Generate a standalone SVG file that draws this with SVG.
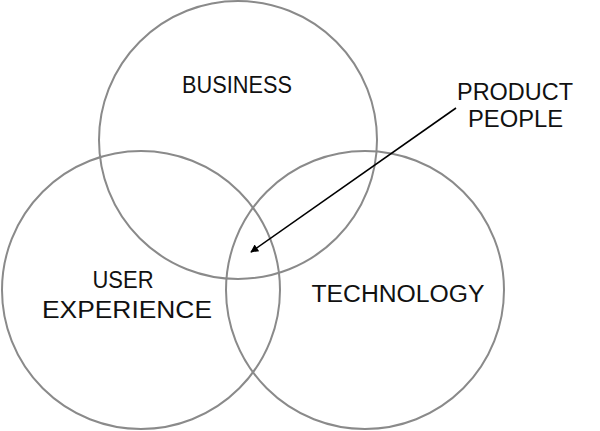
<svg xmlns="http://www.w3.org/2000/svg" width="600" height="431" viewBox="0 0 600 431">
<style>
.c{fill:none;stroke:#8a8a8a;stroke-width:2}
.t{font-family:"Liberation Sans","DejaVu Sans",sans-serif;font-size:23px;fill:#111;text-anchor:middle}
.a{stroke:#000;stroke-width:1.6;fill:none}
</style>
<defs>
<marker id="ah" viewBox="0 0 10 10" refX="9" refY="5" markerWidth="10" markerHeight="8" markerUnits="userSpaceOnUse" orient="auto">
<path d="M0,0 L10,5 L0,10 Z" fill="#000"/>
</marker>
</defs>
<rect width="600" height="431" fill="#fff"/>
<g id="business"><circle class="c" cx="238" cy="140" r="139"/><text class="t" x="237" y="93" textLength="110" lengthAdjust="spacingAndGlyphs">BUSINESS</text></g>
<g id="user-experience"><circle class="c" cx="141" cy="290" r="139"/><text class="t" x="123" y="288" textLength="61" lengthAdjust="spacingAndGlyphs">USER</text><text class="t" x="127" y="318" textLength="170" lengthAdjust="spacingAndGlyphs">EXPERIENCE</text></g>
<g id="technology"><circle class="c" cx="365" cy="290" r="139"/><text class="t" x="398" y="302" textLength="173" lengthAdjust="spacingAndGlyphs">TECHNOLOGY</text></g>
<g id="product-people"><text class="t" x="515" y="100" textLength="116" lengthAdjust="spacingAndGlyphs">PRODUCT</text><text class="t" x="515.5" y="127" textLength="95" lengthAdjust="spacingAndGlyphs">PEOPLE</text></g>
<g id="connectors"><line class="a" x1="456" y1="108" x2="251" y2="252" marker-end="url(#ah)"/></g>
</svg>
